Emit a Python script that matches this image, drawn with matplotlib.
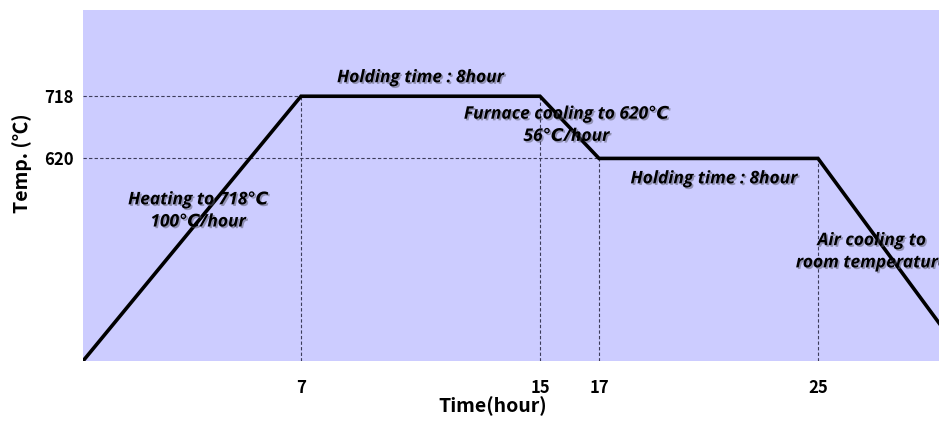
import numpy as np
import matplotlib.pyplot as plt
import matplotlib.patheffects as pe

plt.rcParams['font.family'] = ['Noto Sans CJK KR', 'DejaVu Sans']

# heat-treatment schedule (time in hours, temperature in deg C)
times = [0, 7, 15, 17, 25, 30]
temps = [20, 718, 718, 620, 620, 20]
x_ticks = [7, 15, 17, 25]
y_ticks = [718, 620]
x_guides = [(7, 718), (15, 718), (17, 620), (25, 620)]
y_guides = [(718, 7), (620, 17)]

# the schedule is drawn as a schematic, so both axes use piecewise-linear scales
x_anchor = np.array([0, 7, 15, 17, 25, 30])
x_pos = np.array([0, 218, 457, 516, 735, 884])
y_anchor = np.array([20, 620, 718, 854])
y_pos = np.array([0, 202, 264, 350])


def x_fwd(v):
    return np.interp(v, x_anchor, x_pos)


def x_inv(v):
    return np.interp(v, x_pos, x_anchor)


def y_fwd(v):
    return np.interp(v, y_anchor, y_pos)


def y_inv(v):
    return np.interp(v, y_pos, y_anchor)


fig = plt.figure(figsize=(9.39, 4.21), dpi=100)
ax = fig.add_axes([83 / 939, 60 / 421, 856 / 939, 351 / 421])
ax.set_facecolor('#ccccff')
ax.set_xscale('function', functions=(x_fwd, x_inv))
ax.set_yscale('function', functions=(y_fwd, y_inv))
ax.set_xlim(0, x_inv(856))
ax.set_ylim(20, 854)

guide = dict(color='#3c3c5a', lw=0.8, ls=(0, (3, 2)), zorder=1)
for x, top in x_guides:
    ax.plot([x, x], [20, top], **guide)
for y, right in y_guides:
    ax.plot([0, right], [y, y], **guide)

ax.plot(times, temps, color='black', lw=2.6, solid_joinstyle='miter', zorder=3)

for s in ax.spines.values():
    s.set_visible(False)

ax.set_xticks(x_ticks)
ax.set_xticklabels([str(t) for t in x_ticks], fontsize=12, fontweight='bold')
ax.set_yticks(y_ticks)
ax.set_yticklabels([str(t) for t in y_ticks], fontsize=12, fontweight='bold')
ax.xaxis.set_minor_locator(plt.NullLocator())
ax.yaxis.set_minor_locator(plt.NullLocator())
ax.tick_params(axis='x', length=0, pad=13)
ax.tick_params(axis='y', length=0, pad=7)

ax.set_xlabel('Time(hour)', fontsize=14, fontweight='bold')
ax.xaxis.set_label_coords(0.479, -0.1)
ax.set_ylabel('Temp. (℃)', fontsize=14, fontweight='bold', va='center')
ax.yaxis.set_label_coords(-0.071, 0.564)

shadow = [pe.withSimplePatchShadow(offset=(1.2, -1.2), shadow_rgbFace='#555566', alpha=0.5)]
note = dict(family=['Open Sans', 'DejaVu Sans'], fontsize=12.5, fontweight='bold',
            style='italic', ha='center', va='center', path_effects=shadow, zorder=4,
            linespacing=1.3)

ax.text(11.0, 748, 'Holding time : 8hour', **note)
ax.text(15.9, 673, 'Furnace cooling to 620℃\n56℃/hour', **note)
ax.text(3.7, 466, 'Heating to 718℃\n100℃/hour', **note)
ax.text(21.2, 561, 'Holding time : 8hour', **note)
ax.text(26.8, 345, 'Air cooling to\nroom temperature', **note)

fig.savefig('out.png', dpi=100)
